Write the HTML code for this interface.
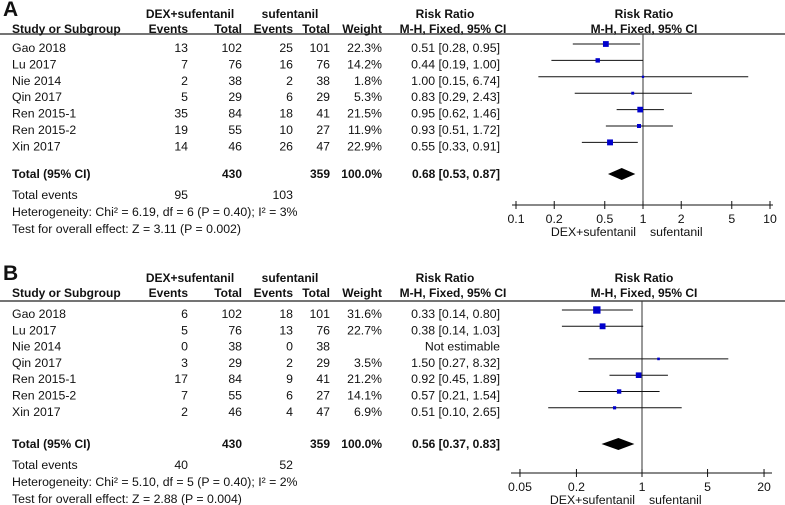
<!DOCTYPE html>
<html><head><meta charset="utf-8">
<style>
html,body{margin:0;padding:0;background:#fff;}
svg{display:block;font-family:"Liberation Sans",Arial,sans-serif;}
</style></head>
<body>
<svg id="chart" width="785" height="505" viewBox="0 0 785 505" xmlns="http://www.w3.org/2000/svg"></svg>
<script>
// ---- Panel A data ----
const studiesA = ["Gao 2018","Lu 2017","Nie 2014","Qin 2017","Ren 2015-1","Ren 2015-2","Xin 2017"];
const expEventsA = [13,7,2,5,35,19,14];
const expTotalA = [102,76,38,29,84,55,46];
const ctlEventsA = [25,16,2,6,18,10,26];
const ctlTotalA = [101,76,38,29,41,27,47];
const weightA = [22.3,14.2,1.8,5.3,21.5,11.9,22.9];
const rrA = [0.51,0.44,1.00,0.83,0.95,0.93,0.55];
const loA = [0.28,0.19,0.15,0.29,0.62,0.51,0.33];
const hiA = [0.95,1.00,6.74,2.43,1.46,1.72,0.91];
const totalA = {rr:0.68, lo:0.53, hi:0.87, n1:430, n2:359, e1:95, e2:103};
const ticksA = [0.1,0.2,0.5,1,2,5,10];
const tickLabelsA = ["0.1","0.2","0.5","1","2","5","10"];
// ---- Panel B data ----
const studiesB = ["Gao 2018","Lu 2017","Nie 2014","Qin 2017","Ren 2015-1","Ren 2015-2","Xin 2017"];
const expEventsB = [6,5,0,3,17,7,2];
const expTotalB = [102,76,38,29,84,55,46];
const ctlEventsB = [18,13,0,2,9,6,4];
const ctlTotalB = [101,76,38,29,41,27,47];
const weightB = [31.6,22.7,null,3.5,21.2,14.1,6.9];
const rrB = [0.33,0.38,null,1.50,0.92,0.57,0.51];
const loB = [0.14,0.14,null,0.27,0.45,0.21,0.10];
const hiB = [0.80,1.03,null,8.32,1.89,1.54,2.65];
const totalB = {rr:0.56, lo:0.37, hi:0.83, n1:430, n2:359, e1:40, e2:52};
const ticksB = [0.05,0.2,1,5,20];
const tickLabelsB = ["0.05","0.2","1","5","20"];

const svg = document.getElementById('chart');
const NS = "http://www.w3.org/2000/svg";
const FS = 12.3, HFS = 12;
function mk(tag, attrs, parent){
  const e = document.createElementNS(NS, tag);
  for (const k in attrs) e.setAttribute(k, attrs[k]);
  (parent||svg).appendChild(e);
  return e;
}
function txt(x,y,s,anchor,bold,size,parent){
  const t = mk('text',{x:x,y:y,'font-size':size||FS,'text-anchor':anchor||'start',fill:'#111','font-weight':bold?'bold':'normal'},parent);
  t.textContent = s;
  return t;
}
function fmt(v){return v.toFixed(2);}

function panel(cfg){
  const g = mk('g',{});
  
  
  const o = cfg.oy;
  const lbl = txt(3, o+16, cfg.letter, 'start', true, 21, g);
  
  
  // headers
  txt(190, o+18, "DEX+sufentanil", 'middle', true, HFS, g);
  txt(290, o+18, "sufentanil", 'middle', true, HFS, g);
  txt(445, o+18, "Risk Ratio", 'middle', true, HFS, g);
  txt(644, o+18, "Risk Ratio", 'middle', true, HFS, g);
  const hy = o+33;
  txt(12, hy, "Study or Subgroup", 'start', true, HFS, g);
  txt(188, hy, "Events", 'end', true, HFS, g);
  txt(242, hy, "Total", 'end', true, HFS, g);
  txt(293, hy, "Events", 'end', true, HFS, g);
  txt(330, hy, "Total", 'end', true, HFS, g);
  txt(382, hy, "Weight", 'end', true, HFS, g);
  txt(453, hy, "M-H, Fixed, 95% CI", 'middle', true, HFS, g);
  txt(644, hy, "M-H, Fixed, 95% CI", 'middle', true, HFS, g);
  const hl = mk('line',{x1:0,x2:785,y1:o+cfg.lineY,y2:o+cfg.lineY,stroke:'#222','stroke-width':1.2},g);
  
  

  const xs = v => cfg.x1 + Math.log10(v)*cfg.dec;
  const axY = o + cfg.axisY;
  const rl = mk('line',{x1:xs(1),x2:xs(1),y1:o+cfg.lineY,y2:axY,stroke:'#333','stroke-width':1},g);
  
  

  cfg.studies.forEach((s,i)=>{
    const cy = o + cfg.row0 + i*cfg.rowH;
    const ty = cy + 8;
    const row = mk('g',{},g);
    
    
    txt(12, ty, s, 'start', false, FS, row);
    txt(188, ty, String(cfg.e1[i]), 'end', false, FS, row);
    txt(242, ty, String(cfg.n1[i]), 'end', false, FS, row);
    txt(293, ty, String(cfg.e2[i]), 'end', false, FS, row);
    txt(330, ty, String(cfg.n2[i]), 'end', false, FS, row);
    if (cfg.w[i]!=null){
      txt(382, ty, cfg.w[i].toFixed(1)+"%", 'end', false, FS, row);
      txt(500, ty, fmt(cfg.rr[i])+" ["+fmt(cfg.lo[i])+", "+fmt(cfg.hi[i])+"]", 'end', false, FS, row);
      const ci = mk('line',{x1:xs(cfg.lo[i]),x2:xs(cfg.hi[i]),y1:cy,y2:cy,stroke:'#111','stroke-width':1},row);
      
      
      const sz = 2 + cfg.w[i]*0.17;
      const sq = mk('rect',{x:xs(cfg.rr[i])-sz/2,y:cy-sz/2,width:sz,height:sz,fill:'#0000cc'},row);
      
      
    } else {
      txt(500, ty, "Not estimable", 'end', false, FS, row);
    }
  });
  const t = cfg.total;
  const tcy = o + cfg.totY;
  txt(12, tcy+4, "Total (95% CI)", 'start', true, HFS, g);
  txt(242, tcy+4, String(t.n1), 'end', true, HFS, g);
  txt(330, tcy+4, String(t.n2), 'end', true, HFS, g);
  txt(382, tcy+4, "100.0%", 'end', true, HFS, g);
  txt(500, tcy+4, fmt(t.rr)+" ["+fmt(t.lo)+", "+fmt(t.hi)+"]", 'end', true, HFS, g);
  const dm = mk('polygon',{points:`${xs(t.lo)},${tcy} ${xs(t.rr)},${tcy-6} ${xs(t.hi)},${tcy} ${xs(t.rr)},${tcy+6}`,fill:'#000'},g);
  
  
  txt(12, tcy+25, "Total events", 'start', false, FS, g);
  txt(188, tcy+25, String(t.e1), 'end', false, FS, g);
  txt(293, tcy+25, String(t.e2), 'end', false, FS, g);
  txt(12, tcy+42, cfg.het, 'start', false, FS, g);
  txt(12, tcy+59, cfg.test, 'start', false, FS, g);
  const ax = mk('g',{},g);
  
  
  mk('line',{x1:cfg.axL,x2:cfg.axR,y1:axY,y2:axY,stroke:'#111','stroke-width':1},ax);
  cfg.ticks.forEach((v,i)=>{
    mk('line',{x1:xs(v),x2:xs(v),y1:axY-4,y2:axY+4,stroke:'#111','stroke-width':1},ax);
    txt(xs(v), axY+18, cfg.tickLabels[i], 'middle', false, FS, ax);
  });
  txt(xs(1)-7, axY+31, "DEX+sufentanil", 'end', false, FS, ax);
  txt(xs(1)+7, axY+31, "sufentanil", 'start', false, FS, ax);
}

panel({name:'panel-a',letter:'A',oy:0,lineY:34,x1:643,dec:127,axisY:205,axL:512,axR:773,
  row0:44,rowH:16.4,totY:174,studies:studiesA,e1:expEventsA,n1:expTotalA,e2:ctlEventsA,n2:ctlTotalA,
  w:weightA,rr:rrA,lo:loA,hi:hiA,total:totalA,ticks:ticksA,tickLabels:tickLabelsA,
  het:"Heterogeneity: Chi\u00b2 = 6.19, df = 6 (P = 0.40); I\u00b2 = 3%",
  test:"Test for overall effect: Z = 3.11 (P = 0.002)"});
panel({name:'panel-b',letter:'B',oy:264,lineY:37,x1:642,dec:93.8,axisY:209,axL:511,axR:772,
  row0:46,rowH:16.3,totY:180,studies:studiesB,e1:expEventsB,n1:expTotalB,e2:ctlEventsB,n2:ctlTotalB,
  w:weightB,rr:rrB,lo:loB,hi:hiB,total:totalB,ticks:ticksB,tickLabels:tickLabelsB,
  het:"Heterogeneity: Chi\u00b2 = 5.10, df = 5 (P = 0.40); I\u00b2 = 2%",
  test:"Test for overall effect: Z = 2.88 (P = 0.004)"});
</script>
</body></html>
